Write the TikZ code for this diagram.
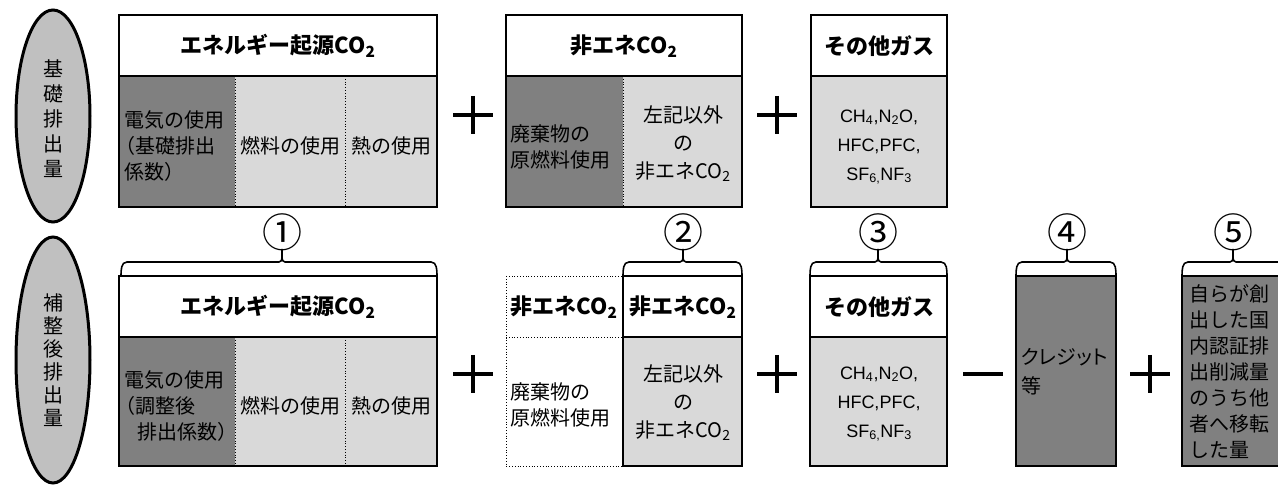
\documentclass[tikz,border=0pt]{standalone}
\usepackage{fontspec}
\setmainfont{Noto Sans CJK JP}
\newfontfamily\jpp{Noto Sans CJK JP}[RawFeature=+palt]
\newfontfamily\arialf{Liberation Sans}
\usetikzlibrary{shapes.geometric}
\definecolor{dk}{HTML}{808080}
\definecolor{lt}{HTML}{D9D9D9}
\definecolor{ell}{HTML}{C0C0C0}
\newcommand{\mysub}[1]{\textsubscript{#1}}
\newcommand{\mybrace}[3]{%
  \draw[brc] (#1,276) to[out=90,in=180] (#1+6,262) -- (#3-3,262) to[out=0,in=-90] (#3,258) -- (#3,249);
  \draw[brc] (#3,258) to[out=-90,in=180] (#3+3,262) -- (#2-6,262) to[out=0,in=90] (#2,276);}
\newcommand{\myplus}[2]{\draw[sgn] (#1-20,#2) -- (#1+20,#2); \draw[sgn] (#1,#2-19) -- (#1,#2+19);}
\tikzset{
  txt/.style={font=\fontsize{20}{26}\selectfont, inner sep=0pt, align=left},
  ctxt/.style={font=\fontsize{20}{28}\selectfont, inner sep=0pt, align=center},
  hdr/.style={font=\bfseries\fontsize{22}{24}\selectfont, inner sep=0pt},
  gas/.style={font=\arialf\fontsize{18}{29}\selectfont, align=center, inner sep=0pt},
  vtxt/.style={font=\fontsize{20}{25}\selectfont, align=center, inner sep=0pt},
  num/.style={font=\fontsize{40}{40}\selectfont, inner sep=0pt},
  bx/.style={line width=2.5pt},
  hl/.style={line width=2pt},
  dv/.style={line width=0.8pt, dotted},
  sgn/.style={line width=4pt},
  brc/.style={line width=1.6pt},
  elp/.style={draw, line width=3pt, fill=ell}
}
\begin{document}
\begin{tikzpicture}[x=1pt,y=-1pt]
\useasboundingbox (0,0) rectangle (1278,486);
% ellipses
\draw[elp] (53,116) ellipse [x radius=37, y radius=106];
\node[vtxt] (e1) at (53,119) {基\\礎\\排\\出\\量};
\draw[elp] (53,360) ellipse [x radius=37, y radius=123];
\node[vtxt, font=\fontsize{20}{23}\selectfont] (e2) at (53,360) {補\\整\\後\\排\\出\\量};
% ---------- top row ----------
\fill[dk] (119,76) rectangle (235,207);
\fill[lt] (235,76) rectangle (437,207);
\draw[dv] (235,76) -- (235,207);
\draw[dv] (345,76) -- (345,207);
\draw[bx] (119,15) rectangle (437,207);
\draw[hl] (119,76) -- (437,76);
\node[hdr] (t1h) at (278,46) {エネルギー起源CO\mysub{2}};
\node[txt, anchor=west] (t1a) at (124,146) {電気の使用\\\hspace*{-9pt}（基礎排出\\係数）};
\node[txt] (t1b) at (290,146) {燃料の使用};
\node[txt] (t1c) at (391,146) {熱の使用};
\myplus{473}{115}
\fill[dk] (506,76) rectangle (623,207);
\fill[lt] (623,76) rectangle (742,207);
\draw[dv] (623,76) -- (623,207);
\draw[bx] (506,15) rectangle (742,207);
\draw[hl] (506,76) -- (742,76);
\node[hdr] (t2h) at (624,46) {非エネCO\mysub{2}};
\node[txt, anchor=west] (t2a) at (510,147) {廃棄物の\\原燃料使用};
\node[ctxt] (t2b) at (683,144) {左記以外\\の\\非エネCO\mysub{2}};
\myplus{777}{115}
\fill[lt] (811,76) rectangle (947,207);
\draw[bx] (811,15) rectangle (947,207);
\draw[hl] (811,76) -- (947,76);
\node[hdr] (t3h) at (879,46) {その他ガス};
\node[gas] (t3a) at (879,147) {CH\mysub{4},N\mysub{2}O,\\HFC,PFC,\\SF\mysub{6,}NF\mysub{3}};
% ---------- numbers and braces ----------
\node[num] (n1) at (282,232) {①};
\node[num] (n2) at (683,232) {②};
\node[num] (n3) at (878,232) {③};
\node[num] (n4) at (1067,232) {④};
\node[num] (n5) at (1233,232) {⑤};
\mybrace{121}{437}{282}
\mybrace{623}{742}{683}
\mybrace{810}{947}{878}
\mybrace{1016}{1116}{1067}
\mybrace{1182}{1284}{1233}
% ---------- bottom row ----------
\fill[dk] (119,337) rectangle (235,466);
\fill[lt] (235,337) rectangle (437,466);
\draw[dv] (235,337) -- (235,466);
\draw[dv] (345,337) -- (345,466);
\draw[bx] (119,276) rectangle (437,466);
\draw[hl] (119,337) -- (437,337);
\node[hdr] (b1h) at (278,307) {エネルギー起源CO\mysub{2}};
\node[txt, anchor=west] (b1a) at (124,406) {電気の使用\\\hspace*{-9pt}（調整後\\\hspace*{13pt}排出係数）};
\node[txt] (b1b) at (290,406) {燃料の使用};
\node[txt] (b1c) at (391,406) {熱の使用};
\myplus{473}{374}
\draw[dv] (506,276) rectangle (623,466);
\draw[dv] (506,337) -- (623,337);
\fill[lt] (623,337) rectangle (742,466);
\draw[bx] (623,276) rectangle (742,466);
\draw[hl] (623,337) -- (742,337);
\node[hdr] (b2h) at (564,307) {非エネCO\mysub{2}};
\node[hdr] (b2i) at (683,307) {非エネCO\mysub{2}};
\node[txt, anchor=west] (b2a) at (510,405) {廃棄物の\\原燃料使用};
\node[ctxt] (b2b) at (683,403) {左記以外\\の\\非エネCO\mysub{2}};
\myplus{777}{374}
\fill[lt] (810,337) rectangle (947,466);
\draw[bx] (810,276) rectangle (947,466);
\draw[hl] (810,337) -- (947,337);
\node[hdr] (b3h) at (879,307) {その他ガス};
\node[gas] (b3a) at (879,404) {CH\mysub{4},N\mysub{2}O,\\HFC,PFC,\\SF\mysub{6,}NF\mysub{3}};
\draw[sgn] (963,374) -- (1003,374);
\fill[dk] (1016,276) rectangle (1116,466);
\draw[bx] (1016,276) rectangle (1116,466);
\node[txt, anchor=west, font=\jpp\fontsize{20}{29}\selectfont] (b4a) at (1021,372) {クレジット\\等};
\myplus{1150}{374}
\fill[dk] (1182,276) rectangle (1290,466);
\draw[bx] (1182,276) rectangle (1290,466);
\node[txt, anchor=west] (b5a) at (1189,372) {自らが創\\出した国\\内認証排\\出削減量\\のうち他\\者へ移転\\した量};
\end{tikzpicture}
\end{document}
